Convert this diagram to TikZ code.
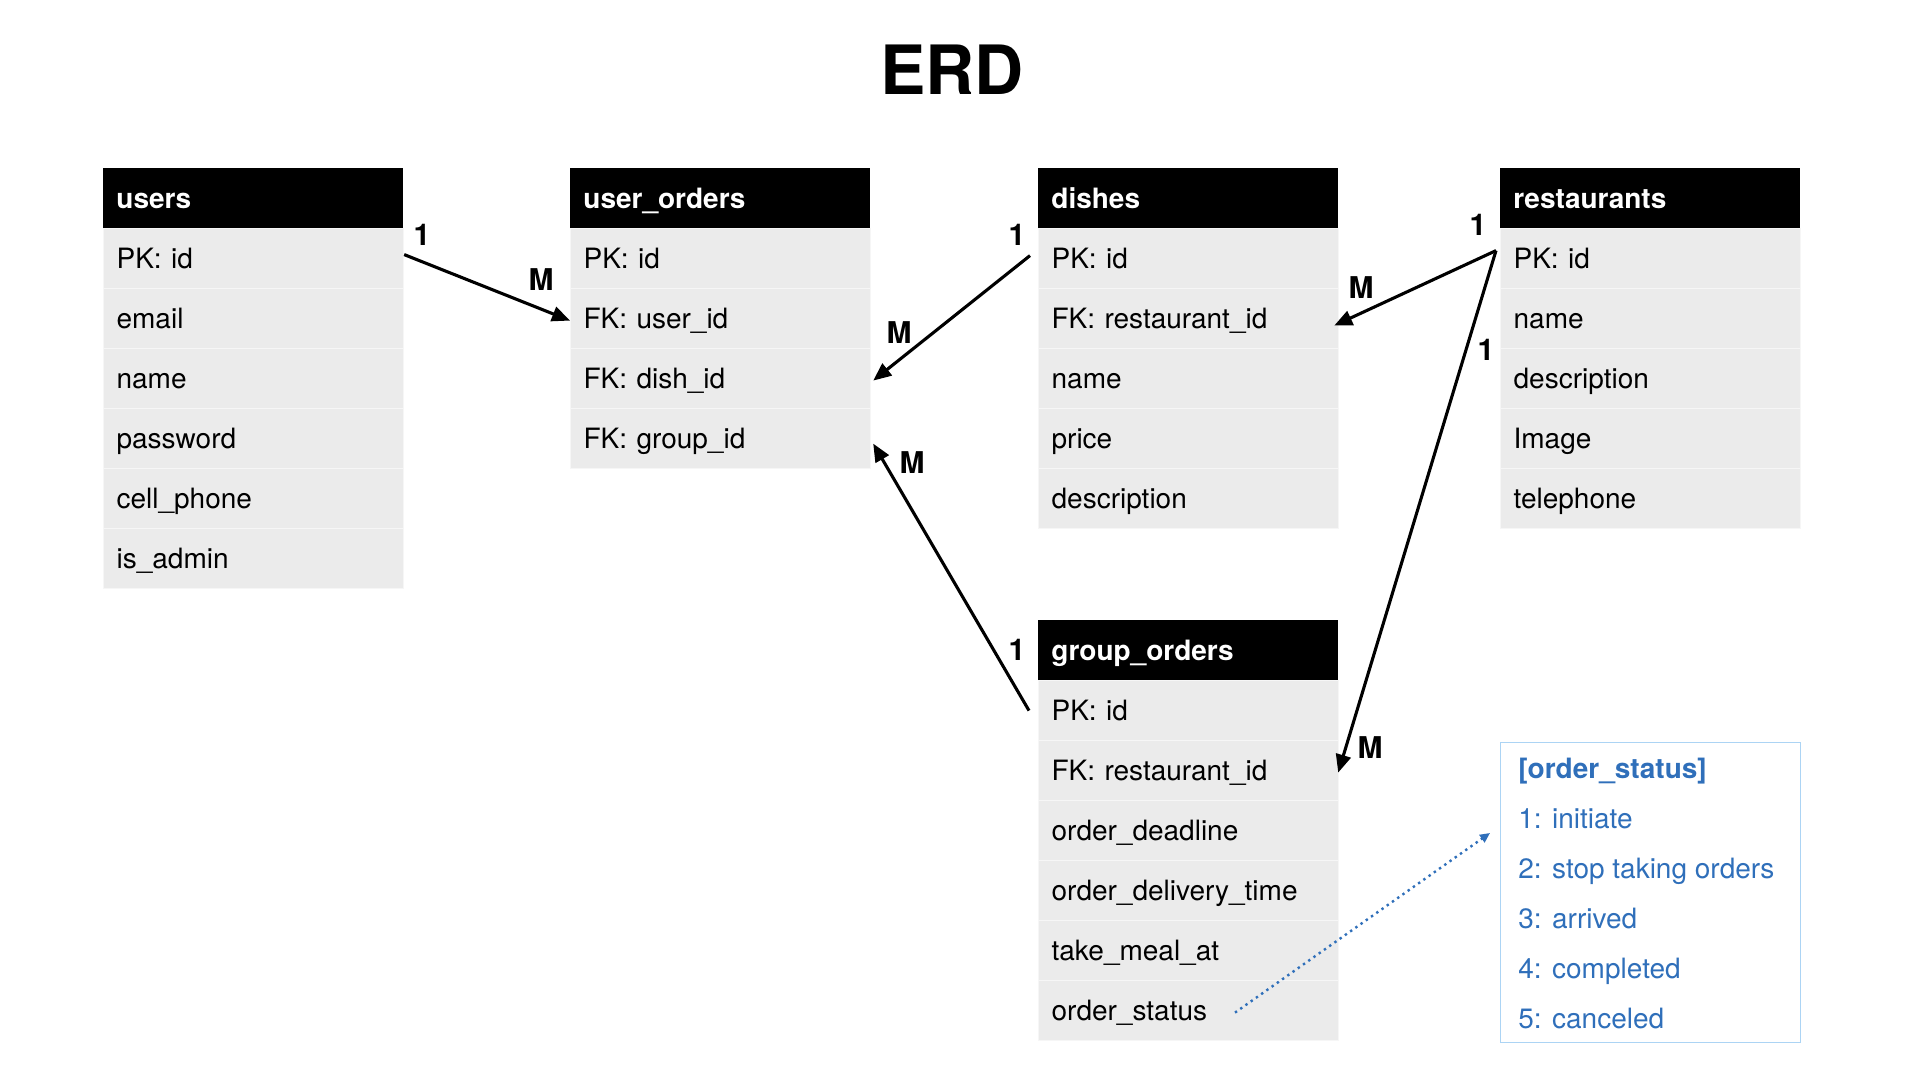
\documentclass[tikz,border=0pt]{standalone}
\usepackage{fontspec}
\setmainfont{TeX Gyre Heros}
\usetikzlibrary{arrows.meta}
\definecolor{rowgray}{RGB}{235,235,235}
\definecolor{sepgray}{RGB}{246,246,246}
\definecolor{stblue}{RGB}{47,111,186}
\definecolor{stborder}{RGB}{172,212,244}
\begin{document}
\begin{tikzpicture}[x=0.5pt,y=-0.5pt,
  tblbase/.style={anchor=north west, minimum width=150pt, minimum height=30pt,
    text width=137pt, inner xsep=6.5pt, inner ysep=0pt, text height=10pt, text depth=0pt,
    align=left, font=\fontsize{14pt}{16pt}\selectfont},
  tblhead/.style={tblbase, fill=black, text=white, font=\fontsize{14pt}{16pt}\selectfont\bfseries},
  tblrow/.style={tblbase, fill=rowgray, draw=sepgray, line width=0.6pt},
  card/.style={font=\fontsize{15pt}{18pt}\selectfont\bfseries, inner sep=0pt},
  rel/.style={-{Triangle[length=9pt,width=7.5pt]}, line width=1.55pt},
  dotrel/.style={-{Triangle[length=5pt,width=4.5pt]}, dotted, line width=1.2pt, draw=stblue, color=stblue},
  stline/.style={anchor=base west, inner sep=0pt, text=stblue, font=\fontsize{14pt}{16pt}\selectfont}
]
\useasboundingbox (0,0) rectangle (1920,1080);

% title
\node[anchor=base, inner sep=0pt, font=\fontsize{34pt}{40pt}\selectfont\bfseries] (title) at (952,95) {ERD};

% users
\node[tblhead] (users) at (103,168) {users};
\node[tblrow] (users1) at (103,228) {PK: id};
\node[tblrow] (users2) at (103,288) {email};
\node[tblrow] (users3) at (103,348) {name};
\node[tblrow] (users4) at (103,408) {password};
\node[tblrow] (users5) at (103,468) {cell\_phone};
\node[tblrow] (users6) at (103,528) {is\_admin};

% user_orders
\node[tblhead] (uo) at (570,168) {user\_orders};
\node[tblrow] (uo1) at (570,228) {PK: id};
\node[tblrow] (uo2) at (570,288) {FK: user\_id};
\node[tblrow] (uo3) at (570,348) {FK: dish\_id};
\node[tblrow] (uo4) at (570,408) {FK: group\_id};

% dishes
\node[tblhead] (dishes) at (1038,168) {dishes};
\node[tblrow] (dishes1) at (1038,228) {PK: id};
\node[tblrow] (dishes2) at (1038,288) {FK: restaurant\_id};
\node[tblrow] (dishes3) at (1038,348) {name};
\node[tblrow] (dishes4) at (1038,408) {price};
\node[tblrow] (dishes5) at (1038,468) {description};

% restaurants
\node[tblhead] (rest) at (1500,168) {restaurants};
\node[tblrow] (rest1) at (1500,228) {PK: id};
\node[tblrow] (rest2) at (1500,288) {name};
\node[tblrow] (rest3) at (1500,348) {description};
\node[tblrow] (rest4) at (1500,408) {Image};
\node[tblrow] (rest5) at (1500,468) {telephone};

% group_orders
\node[tblhead] (go) at (1038,620) {group\_orders};
\node[tblrow] (go1) at (1038,680) {PK: id};
\node[tblrow] (go2) at (1038,740) {FK: restaurant\_id};
\node[tblrow] (go3) at (1038,800) {order\_deadline};
\node[tblrow] (go4) at (1038,860) {order\_delivery\_time};
\node[tblrow] (go5) at (1038,920) {take\_meal\_at};
\node[tblrow] (go6) at (1038,980) {order\_status};

% order status legend
\node[anchor=north west, minimum width=150pt, minimum height=150pt, draw=stborder, line width=0.7pt, inner sep=0pt] (status) at (1500,742) {};
\node[stline, font=\fontsize{14pt}{16pt}\selectfont\bfseries] (st0) at (1518,778) {[order\_status]};
\node[stline] (st1) at (1518,828) {1: initiate};
\node[stline] (st2) at (1518,878) {2: stop taking orders};
\node[stline] (st3) at (1518,928) {3: arrived};
\node[stline] (st4) at (1518,978) {4: completed};
\node[stline] (st5) at (1518,1028) {5: canceled};

% relations
\draw[rel] ([yshift=2pt]users1.east) -- ([yshift=-1pt]uo2.west);
\draw[rel] ([xshift=-4pt,yshift=1.5pt]dishes1.west) -- ([xshift=1pt,yshift=-1pt]uo3.east);
\draw[rel] ([xshift=-4.5pt]go1.west) -- ([xshift=1pt,yshift=-2.5pt]uo4.east);
\coordinate (rstart) at ([xshift=-2pt,yshift=4pt]rest1.west);
\draw[rel] (rstart) -- ([xshift=-2.5pt,yshift=-3.5pt]dishes2.east);
\draw[rel] (rstart) -- ([xshift=-0.5pt,yshift=-1pt]go2.east);

% cardinalities
\node[card] (c1a) at (422,235) {1};
\node[card] (c1b) at (541,280) {M};
\node[card] (c2a) at (1017,235) {1};
\node[card] (c2b) at (899,333) {M};
\node[card] (c3a) at (1017,650) {1};
\node[card] (c3b) at (912,463) {M};
\node[card] (c4a) at (1478,225) {1};
\node[card] (c4b) at (1361,288) {M};
\node[card] (c5a) at (1486,350) {1};
\node[card] (c5b) at (1370,748) {M};

% dotted annotation
\coordinate (dstart) at ([xshift=98.5pt,yshift=-1pt]go6.west);
\coordinate (dend) at ([xshift=-5pt,yshift=-45.5pt]status.north west);
\draw[dotrel] (dstart) -- (dend);
\end{tikzpicture}
\end{document}
